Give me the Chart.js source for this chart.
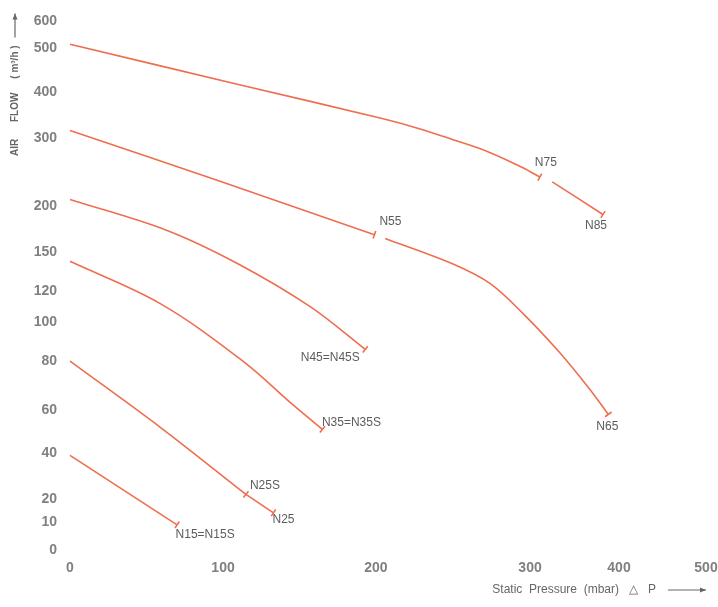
<!DOCTYPE html>
<html>
<head>
<meta charset="utf-8">
<script src="https://cdn.jsdelivr.net/npm/chart.js@4.4.1/dist/chart.umd.min.js"></script>
<style>
  html, body { margin: 0; padding: 0; background: #fff; }
  #wrap { width: 718px; height: 607px; }
</style>
</head>
<body>
<div id="wrap"><canvas id="fanChart"></canvas></div>
<script>
// tick values of both axes (the printed chart uses uneven spacing)
const pressureTicks = [0, 100, 200, 300, 400, 500];
const flowTicks = [0, 10, 20, 40, 60, 80, 100, 120, 150, 200, 300, 400, 500, 600];

// static pressure (mbar) / air flow (m3/h)
const n75P = [0, 110, 204, 227, 250, 273, 296, 311];
const n75Q = [515, 418, 343, 322, 298, 280, 256, 243];
const n85P = [325, 382];
const n85Q = [236, 191];
const n55P = [0, 99, 199];
const n55Q = [317, 236, 169];
const n65P = [206, 250, 274, 296, 334, 366, 388];
const n65Q = [165, 141, 126, 105, 84, 69, 58];
const n45P = [0, 63, 110, 157, 193];
const n45Q = [210, 174, 141, 110, 86];
const n35P = [0, 59, 113, 146, 165];
const n35Q = [143, 112, 80, 62, 51];
const n25sP = [0, 59, 115];
const n25sQ = [80, 52, 22];
const n25P = [115, 133];
const n25Q = [22, 14];
const n15P = [0, 70];
const n15Q = [39, 9];

const curveNames = ['N75', 'N85', 'N55', 'N65', 'N45=N45S', 'N35=N35S', 'N25S', 'N25', 'N15=N15S'];
const curveP = [n75P, n85P, n55P, n65P, n45P, n35P, n25sP, n25P, n15P];
const curveQ = [n75Q, n85Q, n55Q, n65Q, n45Q, n35Q, n25sQ, n25Q, n15Q];

// where each tick sits along its axis (0 = start, 1 = end)
const pressureFrac = [0, 0.2406, 0.4811, 0.7233, 0.8632, 1];
const flowFrac = [0, 0.0529, 0.0964, 0.1834, 0.2647, 0.3573, 0.4310, 0.4896, 0.5633, 0.6503, 0.7788, 0.8658, 0.9490, 1];

// label offsets from the end of each curve, in px
const labelOffsets = [[6, -14], [-7, 11], [16, -13], [-1, 12], [-35, 8], [29, -7], [19, -9], [10, 7], [28, 10]];

const lineColor = '#ee6e4f';
const fontFamily = '"Liberation Sans", Arial, sans-serif';

// piecewise linear scale, so the uneven printed ticks line up
class PiecewiseScale extends Chart.Scale {
  determineDataLimits() {
    const s = this.options.stops;
    this.min = s[0];
    this.max = s[s.length - 1];
  }
  buildTicks() {
    return this.options.stops.map(v => ({ value: v }));
  }
  getLabelForValue(v) {
    return String(v);
  }
  getPixelForValue(v) {
    const s = this.options.stops, f = this.options.fractions;
    let i = 1;
    while (i < s.length - 1 && v > s[i]) i++;
    const t = (v - s[i - 1]) / (s[i] - s[i - 1]);
    return this.getPixelForDecimal(f[i - 1] + t * (f[i] - f[i - 1]));
  }
  getValueForPixel(p) {
    const s = this.options.stops, f = this.options.fractions;
    const d = this.getDecimalForPixel(p);
    let i = 1;
    while (i < f.length - 1 && d > f[i]) i++;
    const t = (d - f[i - 1]) / (f[i] - f[i - 1]);
    return s[i - 1] + t * (s[i] - s[i - 1]);
  }
  getPixelForTick(index) {
    return this.getPixelForValue(this.ticks[index].value);
  }
}
PiecewiseScale.id = 'piecewise';
PiecewiseScale.defaults = {};
Chart.register(PiecewiseScale);

const datasets = curveNames.map((name, k) => ({
  label: name,
  data: curveP[k].map((p, i) => ({ x: p, y: curveQ[k][i] })),
  borderColor: lineColor,
  backgroundColor: lineColor,
  borderWidth: 1.6,
  fill: false,
  tension: 0.35,
  pointStyle: 'line',
  pointBorderColor: lineColor,
  pointBorderWidth: 1.6,
  pointRadius: ctx => ctx.dataIndex === ctx.dataset.data.length - 1 ? 4 : 0,
  pointHoverRadius: 0,
  pointRotation: ctx => {
    const i = ctx.dataIndex;
    if (i === 0) return 0;
    const d = ctx.dataset.data;
    const xs = ctx.chart.scales.x, ys = ctx.chart.scales.y;
    const dx = xs.getPixelForValue(d[i].x) - xs.getPixelForValue(d[i - 1].x);
    const dy = ys.getPixelForValue(d[i].y) - ys.getPixelForValue(d[i - 1].y);
    return Math.atan2(dy, dx) * 180 / Math.PI + 90;
  }
}));

function arrow(c, x1, y1, x2, y2) {
  const a = Math.atan2(y2 - y1, x2 - x1);
  c.beginPath();
  c.moveTo(x1, y1);
  c.lineTo(x2, y2);
  c.stroke();
  c.beginPath();
  c.moveTo(x2, y2);
  c.lineTo(x2 - 6 * Math.cos(a) + 2.5 * Math.sin(a), y2 - 6 * Math.sin(a) - 2.5 * Math.cos(a));
  c.lineTo(x2 - 6 * Math.cos(a) - 2.5 * Math.sin(a), y2 - 6 * Math.sin(a) + 2.5 * Math.cos(a));
  c.closePath();
  c.fill();
}

const curveLabels = {
  id: 'curveLabels',
  afterDatasetsDraw(chart) {
    const c = chart.ctx;
    c.save();
    c.font = '12px ' + fontFamily;
    c.fillStyle = '#5c5c5c';
    c.textAlign = 'center';
    c.textBaseline = 'middle';
    chart.data.datasets.forEach((ds, k) => {
      const pts = chart.getDatasetMeta(k).data;
      const last = pts[pts.length - 1];
      c.fillText(ds.label, last.x + labelOffsets[k][0], last.y + labelOffsets[k][1]);
    });
    c.restore();
  }
};

const axisTitles = {
  id: 'axisTitles',
  afterDraw(chart) {
    const c = chart.ctx;
    const area = chart.chartArea;
    c.save();
    c.fillStyle = '#666';
    c.strokeStyle = '#666';
    c.lineWidth = 1.2;
    // x title, bottom right
    c.font = '12px ' + fontFamily;
    c.textAlign = 'right';
    c.textBaseline = 'middle';
    const ty = chart.height - 17;
    c.fillText('Static  Pressure  (mbar)   \u25B3   P', area.right - 50, ty);
    arrow(c, area.right - 38, ty, area.right, ty);
    // y title, rotated, top left
    c.translate(15, area.top + 24);
    c.rotate(-Math.PI / 2);
    c.font = 'bold 10px ' + fontFamily;
    c.textAlign = 'right';
    c.fillText('AIR      FLOW     ( m\u00B3/h )', 0, 0);
    arrow(c, 8, 0, 32, 0);
    c.restore();
  }
};

const tickFont = { family: fontFamily, size: 14, weight: 'bold' };

new Chart(document.getElementById('fanChart'), {
  type: 'line',
  data: { datasets: datasets },
  options: {
    responsive: true,
    maintainAspectRatio: false,
    animation: false,
    layout: { padding: { top: 21, left: 0, right: 0, bottom: 0 } },
    plugins: { legend: { display: false }, tooltip: { enabled: false } },
    scales: {
      x: {
        type: 'piecewise',
        position: 'bottom',
        stops: pressureTicks,
        fractions: pressureFrac,
        grid: { display: false, drawTicks: false },
        border: { display: false },
        ticks: { autoSkip: false, maxRotation: 0, padding: 10, color: '#808080', font: tickFont },
        afterFit: s => { s.height = 57; s.paddingRight = 12; s.paddingLeft = 0; }
      },
      y: {
        type: 'piecewise',
        position: 'left',
        stops: flowTicks,
        fractions: flowFrac,
        grid: { display: false, drawTicks: false },
        border: { display: false },
        ticks: { autoSkip: false, padding: 13, color: '#808080', font: tickFont },
        afterFit: s => { s.width = 70; }
      }
    }
  },
  plugins: [curveLabels, axisTitles]
});
</script>
</body>
</html>
